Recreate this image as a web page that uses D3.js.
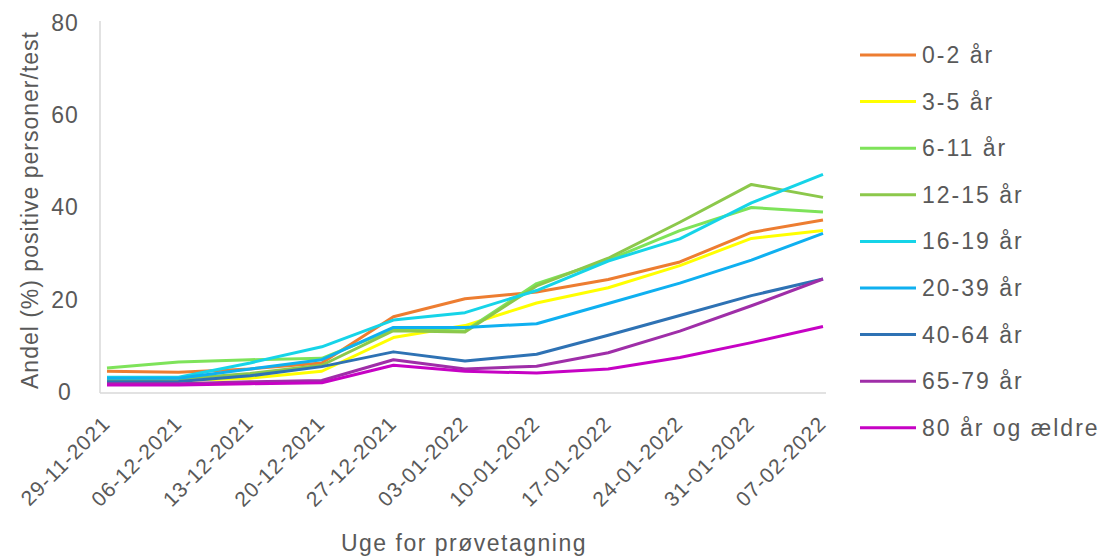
<!DOCTYPE html>
<html>
<head>
<meta charset="utf-8">
<script src="https://cdn.jsdelivr.net/npm/d3@7"></script>
<style>
  body { margin: 0; background: #fff; }
  text { font-family: "Liberation Sans", Arial, sans-serif; fill: #595959; }
</style>
</head>
<body>
<div id="Main"></div>
<script>
var weeks = ["29-11-2021", "06-12-2021", "13-12-2021", "20-12-2021", "27-12-2021", "03-01-2022",
  "10-01-2022", "17-01-2022", "24-01-2022", "31-01-2022", "07-02-2022"];

var groups = ["0-2 år", "3-5 år", "6-11 år", "12-15 år", "16-19 år", "20-39 år", "40-64 år", "65-79 år", "80 år og ældre"];

var age0_2   = [4.5, 4.3, 5.0, 6.3, 16.3, 20.2, 21.7, 24.4, 28.2, 34.6, 37.3];
var age3_5   = [2.5, 2.5, 3.0, 4.5, 11.8, 14.4, 19.3, 22.6, 27.4, 33.3, 35.0];
var age6_11  = [5.2, 6.5, 7.0, 7.3, 13.6, 13.2, 23.5, 28.6, 35.0, 40.0, 39.0];
var age12_15 = [2.5, 2.8, 4.0, 5.8, 13.3, 13.0, 23.0, 29.0, 36.8, 45.0, 42.2];
var age16_19 = [3.2, 3.2, 6.3, 9.8, 15.6, 17.2, 22.0, 28.4, 33.2, 41.0, 47.2];
var age20_39 = [3.0, 3.0, 5.0, 7.0, 14.0, 14.0, 14.8, 19.2, 23.6, 28.6, 34.4];
var age40_64 = [2.2, 2.3, 3.5, 5.5, 8.7, 6.7, 8.2, 12.3, 16.6, 20.9, 24.5];
var age65_79 = [1.8, 1.8, 2.2, 2.5, 7.0, 5.0, 5.6, 8.5, 13.2, 18.7, 24.5];
var age80    = [1.5, 1.5, 1.8, 2.0, 5.8, 4.5, 4.1, 5.0, 7.5, 10.7, 14.2];

var seriesValues = [age0_2, age3_5, age6_11, age12_15, age16_19, age20_39, age40_64, age65_79, age80];
var colors = ["#ed7d31", "#ffff00", "#7ee35a", "#8cc84b", "#16d4e8", "#0fb0f0", "#2e72b4", "#9f2ea8", "#c602c4"];
var yTicks = [0, 20, 40, 60, 80];

var W = 1103, H = 557;
var svg = d3.select("div#Main").append("svg")
  .attr("width", W)
  .attr("height", H);

// plot area (names avoid window.top)
var plotL = 100, plotR = 826, plotT = 23, plotB = 392;

var x = d3.scalePoint().domain(weeks).range([107, 823]);
var y = d3.scaleLinear().domain([0, 80]).range([plotB, plotT]);

// axis lines (light grey, like the source)
svg.append("line")
  .attr("x1", plotL).attr("x2", plotL).attr("y1", plotT - 2).attr("y2", plotB + 1)
  .attr("stroke", "#d9d9d9").attr("stroke-width", 1.5);
svg.append("line")
  .attr("x1", plotL).attr("x2", plotR).attr("y1", plotB + 1).attr("y2", plotB + 1)
  .attr("stroke", "#d9d9d9").attr("stroke-width", 1.5);

// y tick labels
var yAxis = svg.append("g")
  .attr("transform", "translate(65,0)")
  .call(d3.axisLeft(y).tickValues(yTicks).tickSize(0).tickPadding(0));
yAxis.select(".domain").remove();
yAxis.selectAll("text")
  .attr("text-anchor", "middle")
  .attr("x", 0)
  .style("font-size", "23px")
  .style("letter-spacing", "1px")
  .style("fill", "#595959");

// x tick labels, rotated
var xAxis = svg.append("g")
  .call(d3.axisBottom(x).tickSize(0).tickPadding(0));
xAxis.select(".domain").remove();
xAxis.selectAll("text")
  .attr("text-anchor", "end")
  .attr("y", 0).attr("dy", 0)
  .attr("transform", "translate(4," + (plotB + 33) + ") rotate(-45)")
  .style("font-size", "21px")
  .style("letter-spacing", "1px")
  .style("fill", "#595959");

// lines
var line = d3.line()
  .x(function(d, i) { return x(weeks[i]); })
  .y(function(d) { return y(d); });

svg.append("g").selectAll("path")
  .data(seriesValues)
  .join("path")
  .attr("d", line)
  .attr("fill", "none")
  .attr("stroke", function(d, i) { return colors[i]; })
  .attr("stroke-width", 3)
  .attr("stroke-linejoin", "round");

// axis titles
svg.append("text")
  .attr("transform", "translate(38,210) rotate(-90)")
  .attr("text-anchor", "middle")
  .style("font-size", "23px")
  .style("letter-spacing", "1px")
  .text("Andel (%) positive personer/test");

svg.append("text")
  .attr("x", 464).attr("y", 551)
  .attr("text-anchor", "middle")
  .style("font-size", "23px")
  .style("letter-spacing", "1.5px")
  .text("Uge for prøvetagning");

// legend
var legend = svg.append("g").selectAll("g")
  .data(groups)
  .join("g")
  .attr("transform", function(d, i) { return "translate(860," + (55 + i * 46.6) + ")"; });

legend.append("line")
  .attr("x1", 0).attr("x2", 56)
  .attr("stroke", function(d, i) { return colors[i]; })
  .attr("stroke-width", 3);

legend.append("text")
  .attr("x", 62).attr("dy", "0.35em")
  .style("font-size", "23px")
  .style("letter-spacing", "2px")
  .text(function(d) { return d; });
</script>
</body>
</html>
